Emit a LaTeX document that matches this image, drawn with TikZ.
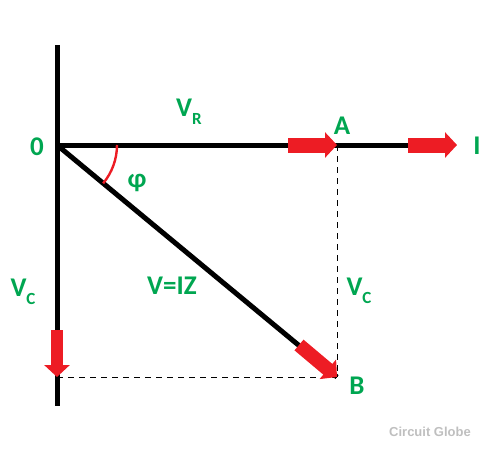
\documentclass[tikz,border=0pt]{standalone}
\usepackage{fontspec}
\setmainfont{Carlito}
\newfontfamily\wmfont{Liberation Sans}
\usetikzlibrary{arrows.meta}
\definecolor{lblgreen}{RGB}{0,166,81}
\definecolor{arrred}{RGB}{237,28,36}
\newcommand\lblsub[1]{\raisebox{-0.28em}{\fontsize{17}{17}\selectfont #1}}
\tikzset{
  axis/.style={line width=5pt},
  guide/.style={line width=1pt, dash pattern=on 6pt off 5pt},
  redarrow/.style={arrred, line width=#1, -{Triangle[length=12pt, width=25pt]}},
  lbl/.style={text=lblgreen, font=\fontsize{27}{27}\selectfont\bfseries, inner sep=0pt},
  wm/.style={text=black!25, font=\fontsize{13}{13}\selectfont\wmfont\bfseries, inner sep=0pt}
}
\begin{document}
\begin{tikzpicture}[x=1pt,y=-1pt]
\useasboundingbox (0,0) rectangle (497,453);
% coordinates
\coordinate (O) at (57,145);
\coordinate (top) at (57,45);
\coordinate (bot) at (57,406);
\coordinate (A) at (337,145);
\coordinate (B) at (337,377);
\coordinate (C) at (57,377);
\coordinate (Rend) at (420,145);
\coordinate (IA) at (408,145);
\coordinate (IB) at (457,145);
\coordinate (AA) at (288,145);
\coordinate (DA) at (299,345);
\coordinate (VA) at (57,330);
% axes
\draw[axis] (top) -- (bot);
\draw[axis] (O) -- (Rend);
\draw[axis] (O) -- (B);
% guides
\draw[guide] (A) -- (B);
\draw[guide] (C) -- (B);
% angle
\draw[arrred, line width=2.4pt] ([shift={(0:60pt)}]O) arc[start angle=0, end angle=-39.7, radius=60pt];
% red arrows
\draw[redarrow=15pt] (AA) -- (A);
\draw[redarrow=15pt] (IA) -- (IB);
\draw[redarrow=14pt] (DA) -- (B);
\draw[redarrow=12pt] (VA) -- (C);
% labels
\node[lbl] (l0) at (37,147) {0};
\node[lbl] (lvr) at (189,112) {V\lblsub{R}};
\node[lbl] (lA) at (342,126) {A};
\node[lbl] (lI) at (477,146) {I};
\node[lbl] (lphi) at (137,183) {φ};
\node[lbl] (lvc1) at (23,292) {V\lblsub{C}};
\node[lbl] (lvz) at (172,286) {V=IZ};
\node[lbl] (lvc2) at (359,291) {V\lblsub{C}};
\node[lbl] (lB) at (357,386) {B};
\node[wm] (wm) at (430,432) {Circuit Globe};
\end{tikzpicture}
\end{document}
